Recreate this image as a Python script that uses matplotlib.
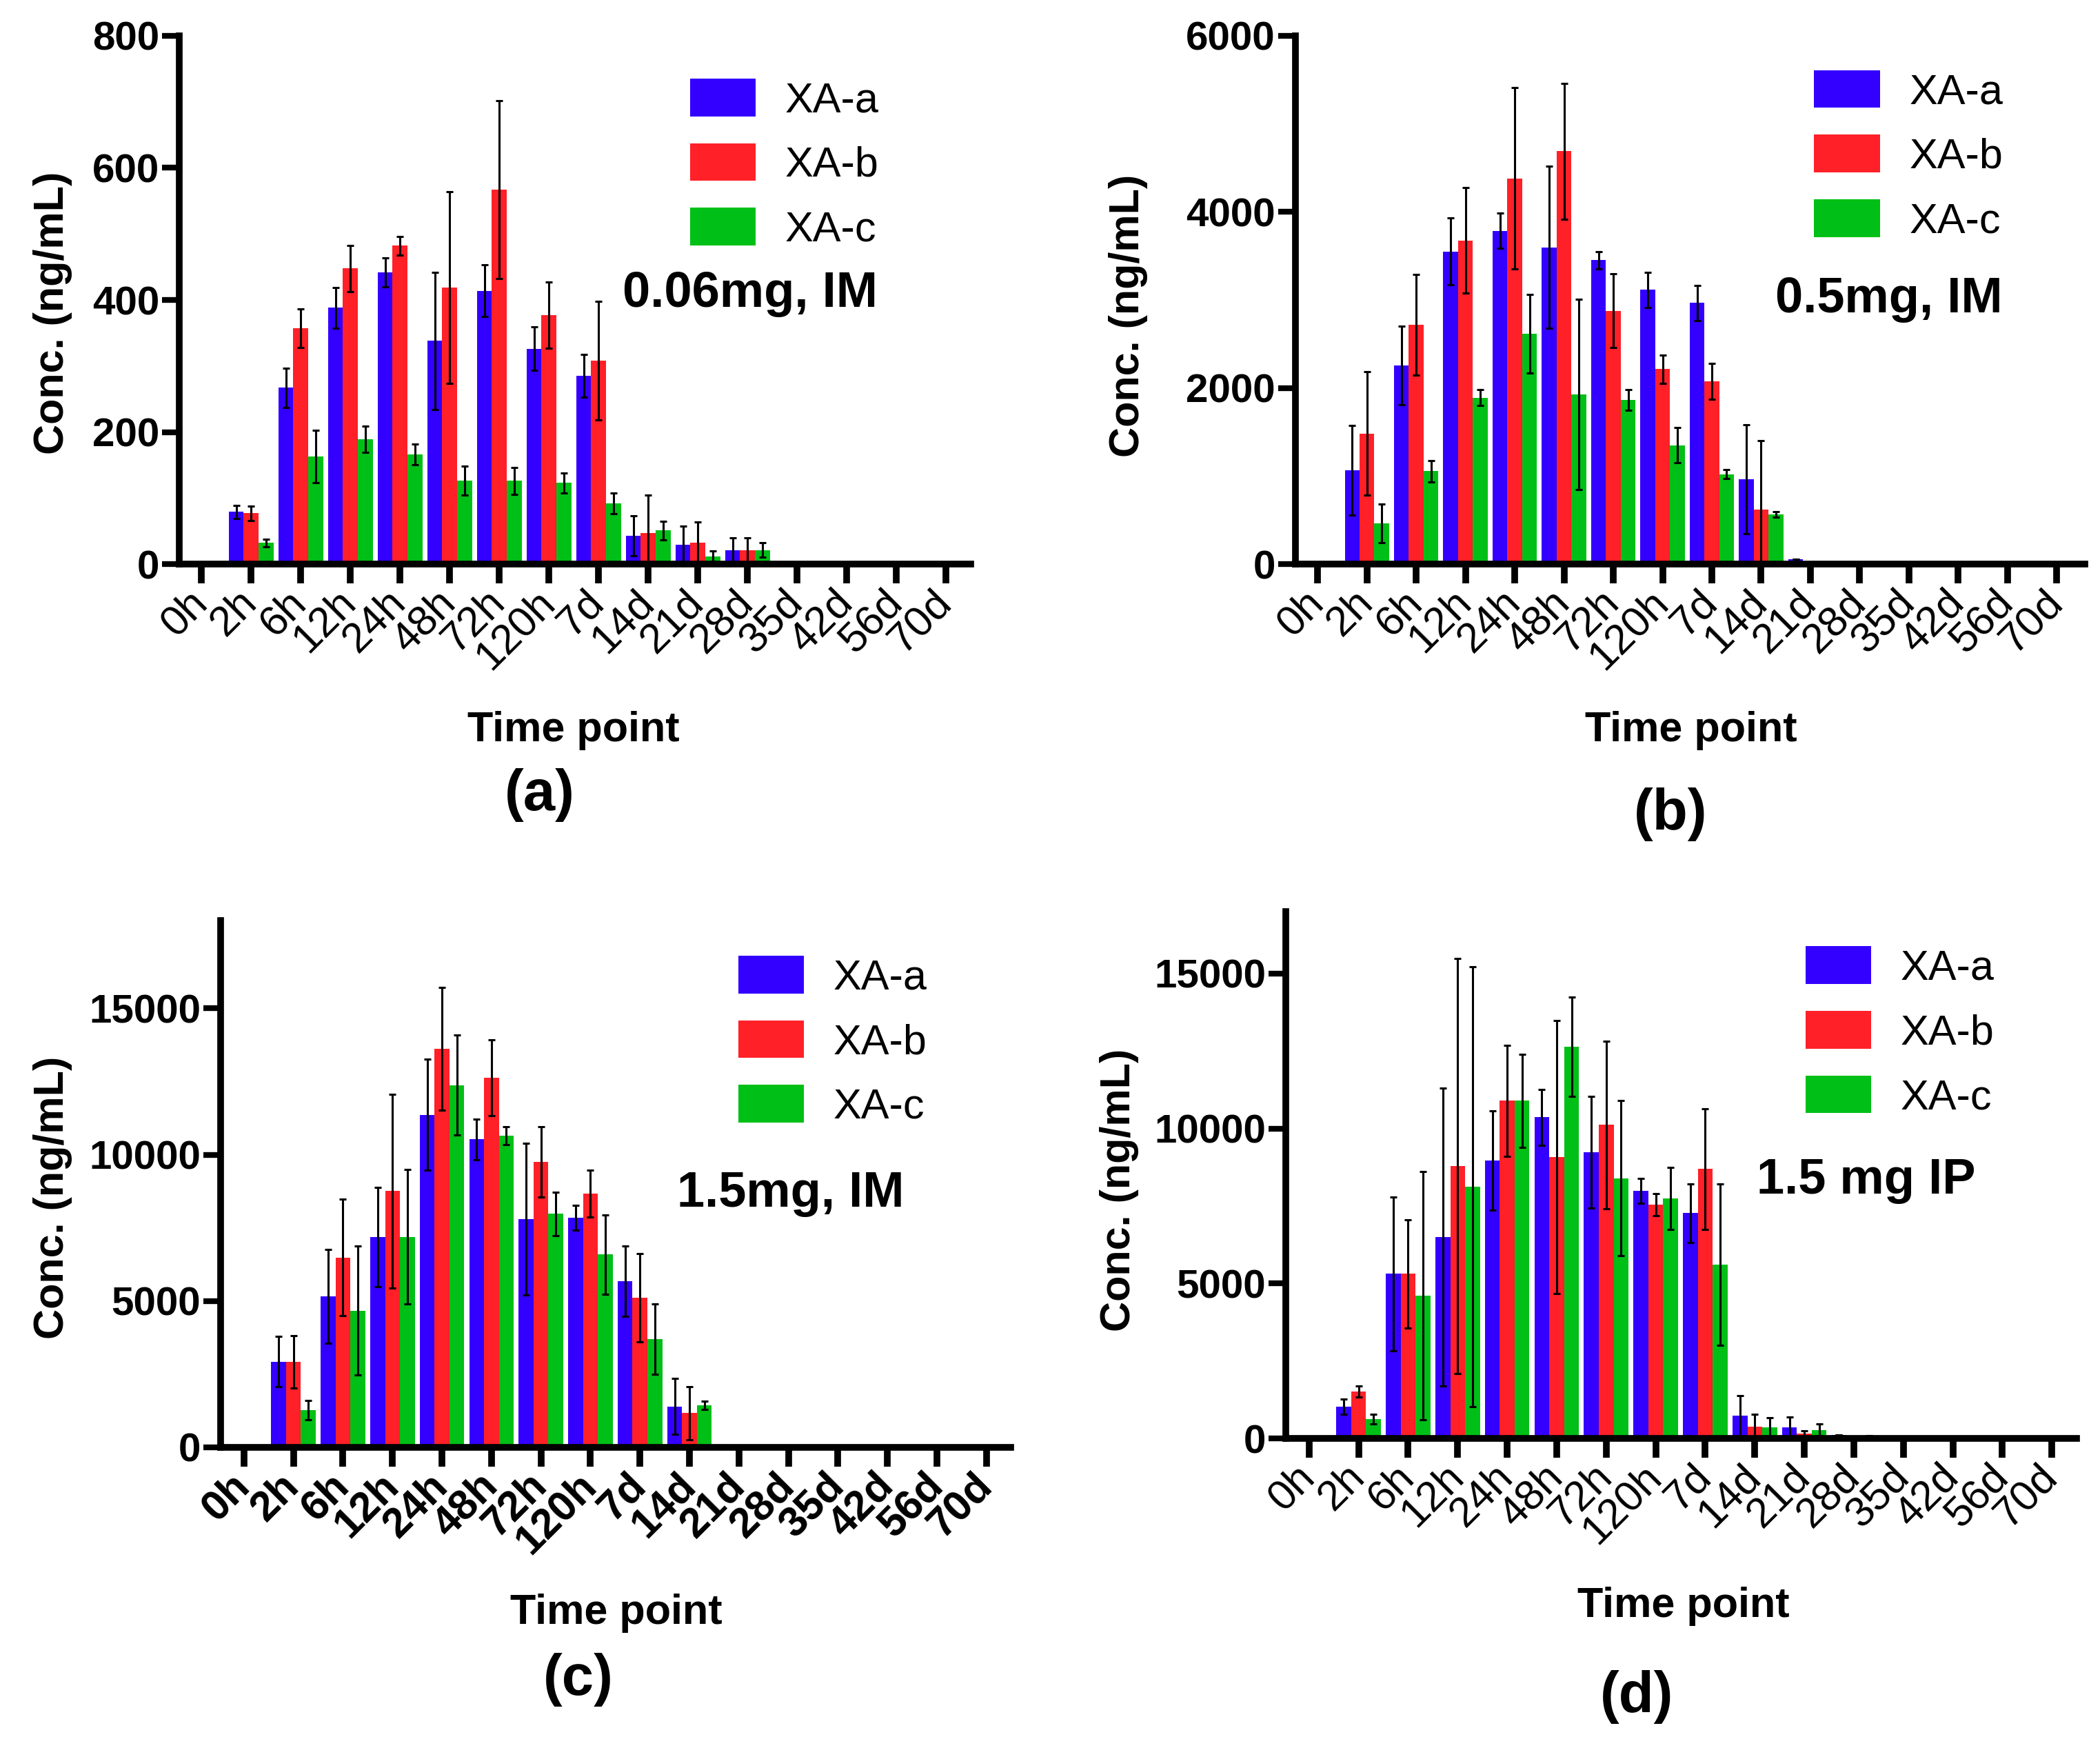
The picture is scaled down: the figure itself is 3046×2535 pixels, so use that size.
import numpy as np
import matplotlib
matplotlib.use('Agg')
from matplotlib import pyplot as plt

plt.rcParams['font.family'] = ['Liberation Sans', 'DejaVu Sans']

# Time points on the x axis
time_labels = ['0h', '2h', '6h', '12h', '24h', '48h', '72h', '120h',
               '7d', '14d', '21d', '28d', '35d', '42d', '56d', '70d']
series_names = ['XA-a', 'XA-b', 'XA-c']

# (a) 0.06mg, IM
a_mean_xa_a = [0, 79, 267, 388, 442, 338, 414, 326, 285, 43, 29, 21, 0, 0, 0, 0]
a_err_xa_a = [0, 10, 30, 31, 22, 104, 39, 33, 32, 30, 29, 19, 0, 0, 0, 0]
a_mean_xa_b = [0, 77, 357, 448, 482, 419, 567, 377, 308, 47, 32, 21, 0, 0, 0, 0]
a_err_xa_b = [0, 11, 29, 35, 14, 145, 135, 50, 90, 57, 32, 19, 0, 0, 0, 0]
a_mean_xa_c = [0, 32, 163, 189, 166, 126, 126, 123, 92, 51, 12, 21, 0, 0, 0, 0]
a_err_xa_c = [0, 6, 40, 20, 16, 22, 20, 15, 16, 14, 8, 11, 0, 0, 0, 0]

# (b) 0.5mg, IM
b_mean_xa_a = [0, 1065, 2256, 3551, 3784, 3596, 3452, 3115, 2966, 966, 54, 0, 0, 0, 0, 0]
b_err_xa_a = [0, 510, 450, 380, 200, 920, 100, 200, 200, 620, 0, 0, 0, 0, 0, 0]
b_mean_xa_b = [0, 1483, 2719, 3676, 4382, 4688, 2876, 2216, 2076, 620, 0, 10, 0, 0, 0, 0]
b_err_xa_b = [0, 700, 570, 600, 1030, 770, 420, 160, 200, 780, 0, 0, 0, 0, 0, 0]
b_mean_xa_c = [0, 463, 1056, 1888, 2616, 1924, 1865, 1348, 1020, 562, 0, 0, 0, 0, 0, 0]
b_err_xa_c = [0, 220, 120, 90, 450, 1080, 120, 200, 50, 30, 0, 0, 0, 0, 0, 0]

# (c) 1.5mg, IM
c_mean_xa_a = [0, 2926, 5153, 7188, 11361, 10522, 7799, 7850, 5687, 1399, 60, 0, 0, 0, 0, 0]
c_err_xa_a = [0, 860, 1600, 1700, 1900, 700, 2600, 420, 1200, 950, 0, 0, 0, 0, 0, 0]
c_mean_xa_b = [0, 2926, 6489, 8753, 13613, 12634, 9758, 8677, 5115, 1170, 0, 10, 0, 0, 0, 0]
c_err_xa_b = [0, 900, 2000, 3300, 2100, 1300, 1200, 800, 1500, 900, 0, 0, 0, 0, 0, 0]
c_mean_xa_c = [0, 1272, 4669, 7188, 12379, 10649, 7977, 6590, 3690, 1438, 0, 0, 0, 0, 0, 0]
c_err_xa_c = [0, 340, 2200, 2300, 1700, 300, 750, 1350, 1200, 150, 0, 0, 0, 0, 0, 0]

# (d) 1.5 mg IP
d_mean_xa_a = [0, 1027, 5314, 6497, 8973, 10362, 9239, 7995, 7270, 725, 362, 120, 0, 0, 0, 0]
d_err_xa_a = [0, 240, 2480, 4800, 1600, 900, 1800, 400, 950, 650, 330, 0, 0, 0, 0, 0]
d_mean_xa_b = [0, 1510, 5314, 8792, 10894, 9082, 10121, 7548, 8696, 386, 157, 48, 0, 0, 0, 0]
d_err_xa_b = [0, 180, 1750, 6700, 1800, 4400, 2700, 350, 1950, 400, 100, 0, 0, 0, 0, 0]
d_mean_xa_c = [0, 628, 4613, 8116, 10894, 12645, 8394, 7753, 5616, 362, 278, 85, 0, 0, 0, 0]
d_err_xa_c = [0, 150, 4000, 7100, 1500, 1600, 2500, 1000, 2600, 300, 180, 0, 0, 0, 0, 0]

colors = ['#3300FF', '#FF2028', '#00BF16']

fig = plt.figure(figsize=(30.46, 25.35), dpi=100)


def draw_panel(rect, means, errs, yticks, ymax, xlim, dose_text, dose_pos,
               leg_pos, ylab_pos, xlab_pos, letter, letter_pos, xbold=False):
    ax = fig.add_axes(rect)
    x = np.arange(len(time_labels))
    w = 0.3
    handles = []
    for k in range(3):
        b = ax.bar(x + (k - 1) * w, means[k], w, yerr=errs[k], color=colors[k],
                   edgecolor='none', label=series_names[k],
                   error_kw=dict(ecolor='black', elinewidth=2.2, capsize=3.5,
                                 capthick=2.2))
        handles.append(b)

    ax.set_xlim(xlim)
    ax.set_ylim(0, ymax)
    ax.set_yticks(yticks)
    ax.set_yticklabels([str(v) for v in yticks], fontsize=42, fontweight='bold')
    ax.set_xticks(x)
    ax.set_xticklabels(time_labels, fontsize=44, rotation=45, ha='right',
                       va='center', rotation_mode='anchor',
                       fontweight='bold' if xbold else 'normal')

    for s in ['top', 'right']:
        ax.spines[s].set_visible(False)
    for s in ['left', 'bottom']:
        ax.spines[s].set_linewidth(7)
    ax.tick_params(axis='y', direction='out', length=18, width=6, pad=3)
    ax.tick_params(axis='x', direction='out', length=20, width=7, pad=14)

    ax.set_ylabel('Conc. (ng/mL)', fontsize=44, fontweight='bold')
    ax.yaxis.set_label_coords(ylab_pos[0], ylab_pos[1])

    ax.text(xlab_pos[0], xlab_pos[1], 'Time point', transform=ax.transAxes,
            fontsize=44, fontweight='bold', ha='center', va='baseline')
    ax.text(letter_pos[0], letter_pos[1], letter, transform=ax.transAxes,
            fontsize=60, fontweight='bold', ha='center', va='baseline')
    ax.text(dose_pos[0], dose_pos[1], dose_text, transform=ax.transAxes,
            fontsize=52, fontweight='bold', ha='right', va='baseline')

    ax.legend(handles=handles, loc='upper left', bbox_to_anchor=leg_pos,
              frameon=False, fontsize=44, handlelength=1.56, handleheight=1.0,
              handletextpad=0.7, labelspacing=0.53, borderpad=0,
              borderaxespad=0)
    return ax


draw_panel([0.0854, 0.6773, 0.3769, 0.3022],
           [a_mean_xa_a, a_mean_xa_b, a_mean_xa_c],
           [a_err_xa_a, a_err_xa_b, a_err_xa_c],
           [0, 200, 400, 600, 800], 800, (-0.444, 15.5),
           '0.06mg, IM', (0.882, 0.487), (0.645, 0.919),
           (-0.135, 0.476), (0.498, -0.336), '(a)', (0.455, -0.466))

draw_panel([0.6169, 0.6773, 0.3759, 0.3022],
           [b_mean_xa_a, b_mean_xa_b, b_mean_xa_c],
           [b_err_xa_a, b_err_xa_b, b_err_xa_c],
           [0, 2000, 4000, 6000], 6000, (-0.45, 15.57),
           '0.5mg, IM', (0.896, 0.476), (0.657, 0.935),
           (-0.187, 0.47), (0.501, -0.336), '(b)', (0.475, -0.503))

draw_panel([0.1051, 0.1720, 0.3762, 0.3014],
           [c_mean_xa_a, c_mean_xa_b, c_mean_xa_c],
           [c_err_xa_a, c_err_xa_b, c_err_xa_c],
           [0, 5000, 10000, 15000], 18000, (-0.47, 15.49),
           '1.5mg, IM', (0.865, 0.457), (0.655, 0.933),
           (-0.188, 0.474), (0.501, -0.335), '(c)', (0.453, -0.470),
           xbold=True)

draw_panel([0.6123, 0.1771, 0.3766, 0.3014],
           [d_mean_xa_a, d_mean_xa_b, d_mean_xa_c],
           [d_err_xa_a, d_err_xa_b, d_err_xa_c],
           [0, 5000, 10000, 15000], 17000, (-0.47, 15.5),
           '1.5 mg IP', (0.872, 0.465), (0.657, 0.934),
           (-0.186, 0.472), (0.503, -0.339), '(d)', (0.444, -0.520))

fig.savefig('out.png', dpi=100)
